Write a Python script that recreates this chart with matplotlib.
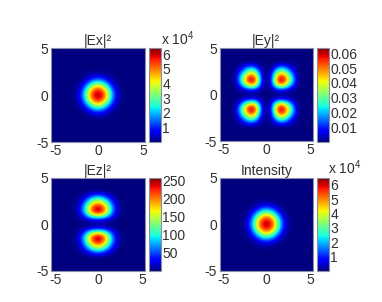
import numpy as np
import matplotlib
matplotlib.use('Agg')
import matplotlib.pyplot as plt
from matplotlib.transforms import ScaledTranslation

plt.rcParams['font.family'] = ['Liberation Sans', 'DejaVu Sans']
plt.rcParams['axes.unicode_minus'] = False

# one quadrant of every map, step 0.5 (rows y=0.., columns x=0..)
ex_quadrant = [
    [6.3, 5.8, 4.2, 2.0, 0.6, 0.08, 0],
    [5.8, 5.2, 3.6, 1.7, 0.45, 0.06, 0],
    [4.2, 3.6, 2.3, 0.95, 0.22, 0.03, 0],
    [2.0, 1.7, 0.95, 0.33, 0.07, 0.01, 0],
    [0.6, 0.45, 0.22, 0.07, 0.01, 0, 0],
    [0.08, 0.06, 0.03, 0.01, 0, 0, 0],
    [0, 0, 0, 0, 0, 0, 0],
]
ey_quadrant = [
    [0, 0, 0, 0, 0, 0, 0],
    [0, 0.0009, 0.005, 0.0076, 0.0062, 0.0035, 0.001],
    [0, 0.005, 0.03, 0.046, 0.038, 0.022, 0.007],
    [0, 0.0076, 0.046, 0.063, 0.056, 0.036, 0.014],
    [0, 0.0062, 0.038, 0.056, 0.05, 0.03, 0.012],
    [0, 0.0035, 0.022, 0.036, 0.03, 0.017, 0.006],
    [0, 0.001, 0.007, 0.014, 0.012, 0.006, 0.002],
]
ez_quadrant = [
    [0, 0, 0, 0, 0, 0, 0],
    [31, 29, 20, 9, 2, 0, 0],
    [190, 170, 115, 52, 14, 2, 0],
    [260, 236, 165, 80, 24, 4, 0],
    [225, 200, 140, 68, 18, 3, 0],
    [150, 130, 85, 36, 9, 1, 0],
    [60, 50, 28, 10, 2, 0, 0],
]
intensity_quadrant = [
    [6.4, 5.9, 4.3, 2.1, 0.65, 0.09, 0],
    [5.9, 5.3, 3.7, 1.8, 0.5, 0.07, 0],
    [4.3, 3.7, 2.4, 1.05, 0.25, 0.03, 0],
    [2.1, 1.8, 1.05, 0.38, 0.08, 0.01, 0],
    [0.65, 0.5, 0.25, 0.08, 0.01, 0, 0],
    [0.09, 0.07, 0.03, 0.01, 0, 0, 0],
    [0, 0, 0, 0, 0, 0, 0],
]

titles = ['|Ex|²', '|Ey|²', '|Ez|²', 'Intensity']
color_max = [6.4, 0.064, 258, 6.5]
ticks_ex = [1, 2, 3, 4, 5, 6]
ticks_ey = [0.01, 0.02, 0.03, 0.04, 0.05, 0.06]
ticks_ez = [50, 100, 150, 200, 250]
axis_ticks = [-5, 0, 5]

W, H = 382, 302
TXT = '#303030'
EDGE = '#8a8fa5'


def pole(quadrant):
    # mirror the quadrant into the full map, zeros out to +-5
    q = np.array(quadrant, dtype=float)
    q = np.pad(q, (0, 4))
    top = np.hstack([q[:, :0:-1], q])
    return np.vstack([top[:0:-1], top])


def rysuj(dane, box, cbox, tytul, vmax, ticks, labels, mnoznik=None):
    x0, y0, x1, y1 = box
    ax = fig.add_axes([x0 / W, 1 - y1 / H, (x1 - x0) / W, (y1 - y0) / H])
    im = ax.imshow(pole(dane), extent=[-5.25, 5.25, -5.25, 5.25], origin='lower', cmap='jet',
                   vmin=0, vmax=vmax, interpolation='bicubic', interpolation_stage='data')
    ax.set_xlim(-5, 5)
    ax.set_ylim(-5, 5)
    ax.set_xticks(axis_ticks)
    ax.set_yticks(axis_ticks)
    ax.tick_params(length=0, labelsize=10, colors=TXT, pad=1.5)
    ax.tick_params(axis='y', pad=2)
    # the end labels sit a little inside the ticks in the original
    labs = ax.get_xticklabels()
    labs[0].set_transform(labs[0].get_transform() + ScaledTranslation(4 / 100, 0, fig.dpi_scale_trans))
    labs[2].set_transform(labs[2].get_transform() + ScaledTranslation(-2 / 100, 0, fig.dpi_scale_trans))
    for s in ax.spines.values():
        s.set_color(EDGE)
        s.set_linewidth(0.8)
    ax.set_title(tytul, fontsize=10, color=TXT, pad=2)

    cax = fig.add_axes([cbox[0] / W, 1 - y1 / H, (cbox[1] - cbox[0]) / W, (y1 - y0) / H])
    cb = fig.colorbar(im, cax=cax)
    cb.set_ticks(ticks)
    cb.set_ticklabels(labels)
    cb.ax.tick_params(length=0, labelsize=10, colors=TXT, pad=1)
    cb.outline.set_edgecolor(EDGE)
    cb.outline.set_linewidth(0.8)
    if mnoznik:
        fig.text(mnoznik[0] / W, 1 - mnoznik[1] / H, 'x 10$^{\\mathregular{4}}$', fontsize=10,
                 color=TXT, va='baseline')


fig = plt.figure(figsize=(W / 100, H / 100), dpi=100)

rysuj(ex_quadrant, (51, 48.3, 145, 142), (148.7, 161), titles[0], color_max[0],
      ticks_ex, [str(t) for t in ticks_ex], (161, 45))
rysuj(ey_quadrant, (219.7, 47.7, 312.7, 141.7), (317, 329), titles[1], color_max[1],
      ticks_ey, [str(t) for t in ticks_ey])
rysuj(ez_quadrant, (51, 177.7, 145, 271), (148.7, 161), titles[2], color_max[2],
      ticks_ez, [str(t) for t in ticks_ez])
rysuj(intensity_quadrant, (219.7, 177.7, 312.7, 271), (317, 329), titles[3], color_max[3],
      ticks_ex, [str(t) for t in ticks_ex], (328, 174))

plt.savefig('out.png', dpi=100)
